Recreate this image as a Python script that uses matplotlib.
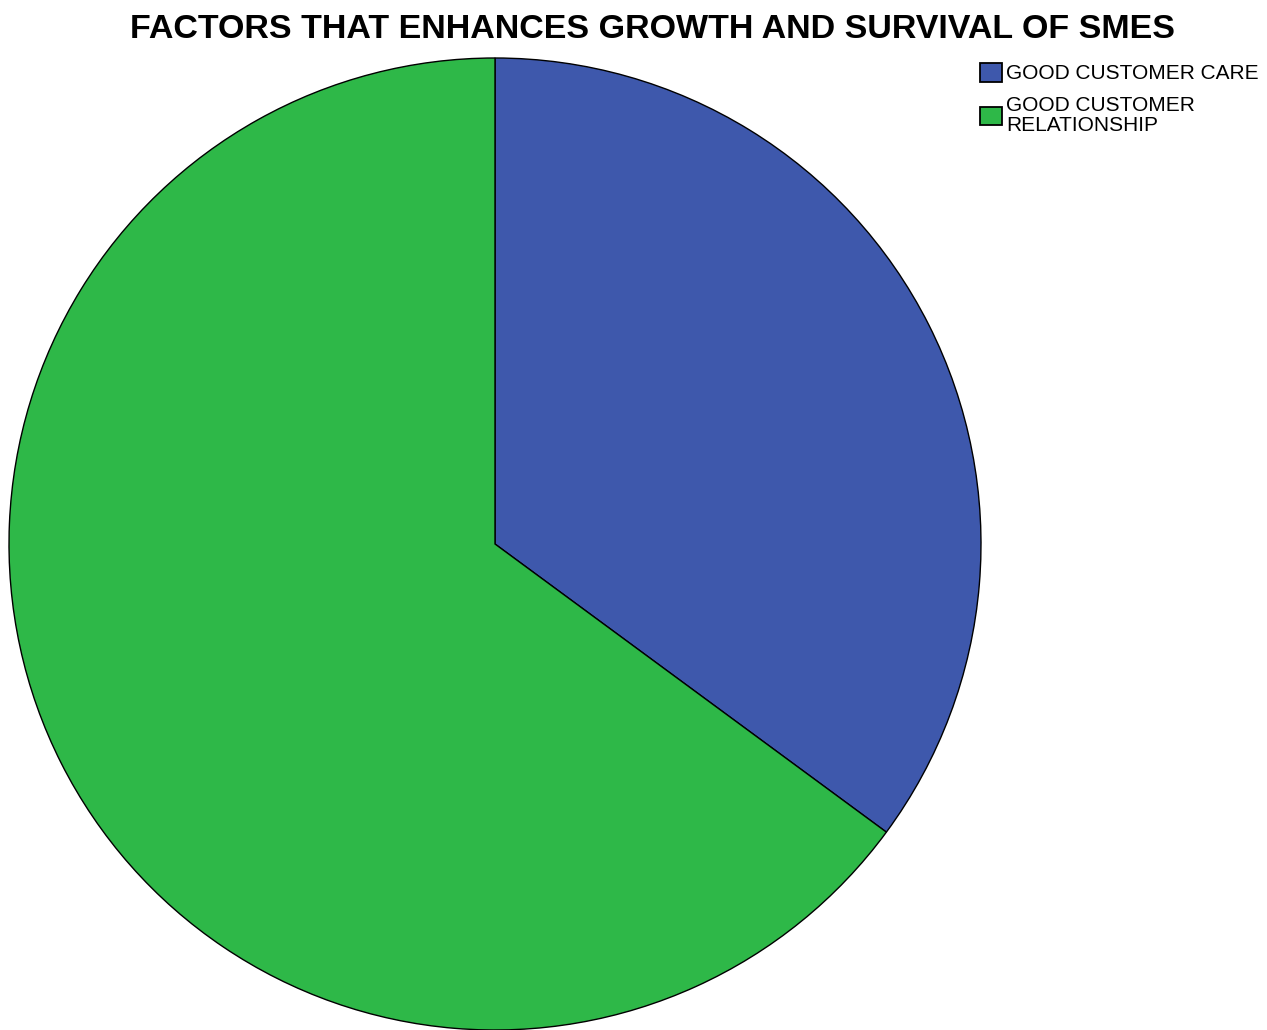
import matplotlib
matplotlib.use("Agg")
import matplotlib.pyplot as plt
from matplotlib.patches import Patch

categories = ["GOOD CUSTOMER CARE", "GOOD CUSTOMER\nRELATIONSHIP"]
values = [35.1, 64.9]
colors = ["#3E58AC", "#2EB848"]
title = "FACTORS THAT ENHANCES GROWTH AND SURVIVAL OF SMES"

W, H = 1267, 1030
fig = plt.figure(figsize=(W / 100, H / 100), dpi=100)
ax = fig.add_axes([0, 0, 1, 1])
ax.set_xlim(0, W)
ax.set_ylim(0, H)
ax.set_aspect("equal")
ax.axis("off")

ax.pie(values, colors=colors, startangle=90, counterclock=False,
       center=(495, H - 544), radius=486,
       wedgeprops=dict(edgecolor="black", linewidth=1.0))
ax.set_xlim(0, W)
ax.set_ylim(0, H)

fig.text(652 / W, 1 - 30 / H, title, ha="center", va="center",
         fontsize=24.5, fontweight="bold",
         family=["Liberation Sans", "DejaVu Sans"])

handles = [Patch(facecolor=c, edgecolor="black", linewidth=1.3) for c in colors]
leg = fig.legend(handles, categories, loc="upper left",
                 bbox_to_anchor=(980 / W, 1 - 63 / H), frameon=False,
                 prop=dict(family="Liberation Sans", size=15),
                 handlelength=1.05, handleheight=1.0, handletextpad=0.2,
                 labelspacing=0.6, borderaxespad=0, borderpad=0)
for t in leg.get_texts():
    t.set_linespacing(1.1)

fig.savefig("out.png", dpi=100)
